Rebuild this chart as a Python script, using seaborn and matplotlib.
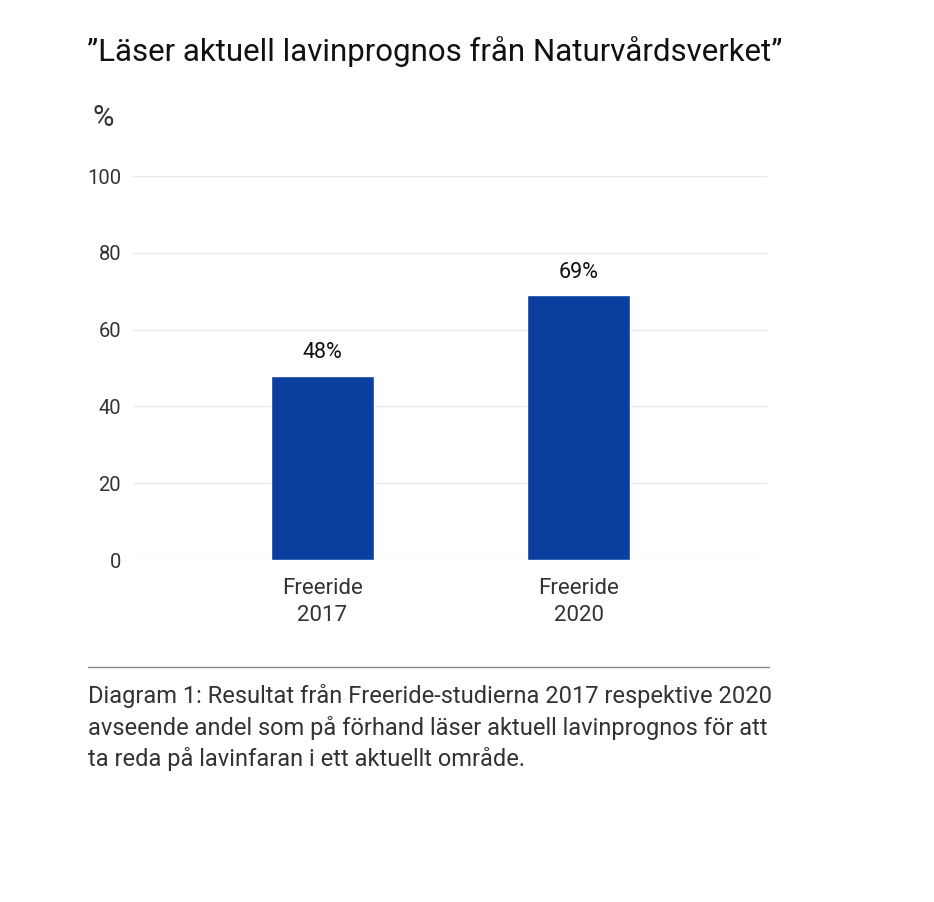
import matplotlib
matplotlib.use("Agg")
import matplotlib.pyplot as plt
import seaborn as sns
import pandas as pd

# data
categories = ["Freeride\n2017", "Freeride\n2020"]
values = [48, 69]
value_labels = ["48%", "69%"]
yticks = [0, 20, 40, 60, 80, 100]

title = "\u201dLäser aktuell lavinprognos från Naturvårdsverket\u201d"
caption = ("Diagram 1: Resultat från Freeride-studierna 2017 respektive 2020\n"
           "avseende andel som på förhand läser aktuell lavinprognos för att\n"
           "ta reda på lavinfaran i ett aktuellt område.")

sns.set_style("white")
plt.rcParams['font.family'] = ['Roboto', 'DejaVu Sans']

txt = "#333333"
bar_col = "#0A3FA0"

W, H = 934, 902
fig = plt.figure(figsize=(W / 100, H / 100), dpi=100)
ax = fig.add_axes([133 / W, 1 - 560 / H, (767 - 133) / W, (560 - 176) / H])

df = pd.DataFrame({"cat": categories, "val": values})
sns.barplot(data=df, x="cat", y="val", color=bar_col, width=0.40, ax=ax, saturation=1)

ax.set_xlim(-0.74, 1.736)
ax.set_ylim(0, 100)
ax.set_yticks(yticks)
ax.yaxis.grid(True, color="#e8e8e8", linewidth=1)
ax.set_axisbelow(True)
for s in ax.spines.values():
    s.set_visible(False)
ax.set_xlabel("")
ax.set_ylabel("")
ax.tick_params(axis="y", length=0, pad=8.5, labelsize=14.5, labelcolor=txt)
ax.tick_params(axis="x", length=0, pad=13, labelsize=16, labelcolor=txt)
for lab in ax.get_xticklabels():
    lab.set_linespacing(1.35)

for i, (v, lab) in enumerate(zip(values, value_labels)):
    ax.annotate(lab, (i, v), xytext=(0, 9), textcoords="offset points",
                ha="center", va="bottom", fontsize=15.5, color="#111111")

fig.text(87 / W, 1 - 52 / H, title, fontsize=22.5, fontweight="normal",
         color="#111111", va="center", ha="left")
fig.text(92 / W, 1 - 118 / H, "%", fontsize=21, color=txt, va="center", ha="left")

fig.add_artist(plt.Line2D([88 / W, 769 / W], [1 - 667 / H, 1 - 667 / H],
                          color="#888888", linewidth=1))
fig.text(88 / W, 1 - 684 / H, caption, fontsize=17, color=txt,
         va="top", ha="left", linespacing=1.4)

fig.savefig("out.png", dpi=100)
